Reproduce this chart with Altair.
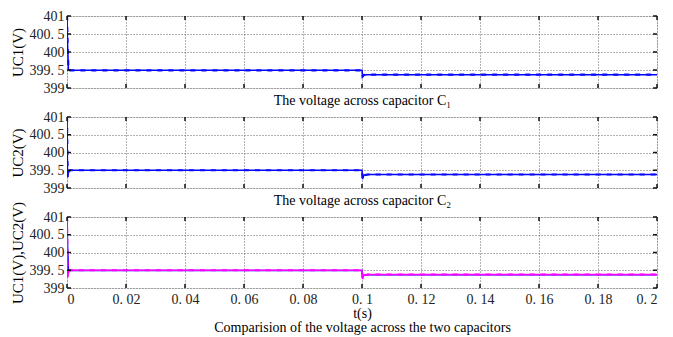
import altair as alt
import pandas as pd

# time samples (s)
t = [0.0, 0.0002, 0.0005, 0.001, 0.0999, 0.1, 0.1002, 0.1006, 0.102, 0.2]
# capacitor voltages (V)
uc1 = [401.0, 400.2, 399.5, 399.49, 399.49, 399.49, 399.32, 399.36, 399.37, 399.37]
uc2 = [401.0, 399.3, 399.45, 399.5, 399.5, 399.5, 399.25, 399.36, 399.38, 399.38]

x_ticks = [0, 0.02, 0.04, 0.06, 0.08, 0.1, 0.12, 0.14, 0.16, 0.18, 0.2]
y_ticks = [399, 399.5, 400, 400.5, 401]

titles = ["The voltage across capacitor C\u2081", "The voltage across capacitor C\u2082"]
y_titles = ["UC1(V)", "UC2(V)", "UC1(V),UC2(V)"]
bottom_title = ["t(s)", "Comparision of the voltage across the two capacitors"]

FONT = "Liberation Serif"
W = 590

df = pd.DataFrame({"t": t, "uc1": uc1, "uc2": uc2})
xt = pd.DataFrame({"x": x_ticks})
yt = pd.DataFrame({"y": y_ticks})

label_expr = "replace(format(datum.value, ''), '.', '. ')"


def panel(kind, h):
    last = kind == 2
    xaxis = alt.Axis(
        values=x_ticks, grid=True, gridDash=[1, 2], gridColor="#555", gridOpacity=0.9,
        ticks=False, domain=False, labels=last, labelExpr=label_expr, labelOverlap=False,
        labelFont=FONT, labelFontSize=14, labelColor="#222", labelPadding=4,
        title=bottom_title if last else titles[kind],
        titleFont=FONT, titleFontSize=14, titleFontWeight="normal", titleLineHeight=14,
        titleColor="#000", titlePadding=0 if last else 5,
    )
    yaxis = alt.Axis(
        values=y_ticks, grid=True, gridDash=[1, 2], gridColor="#555", gridOpacity=0.9,
        ticks=False, domain=False, labelExpr=label_expr, labelOverlap=False,
        labelFont=FONT, labelFontSize=14, labelColor="#222", labelPadding=3,
        title=y_titles[kind], titleFont=FONT, titleFontSize=15,
        titleFontWeight="normal", titleColor="#000", titlePadding=4,
    )
    xs = alt.Scale(domain=[0, 0.2], nice=False, zero=False)
    ys = alt.Scale(domain=[399, 401], nice=False, zero=False)

    X = lambda f: alt.X(f, scale=xs, axis=xaxis)
    Y = lambda f: alt.Y(f, scale=ys, axis=yaxis)

    layers = []
    if kind in (0, 2):
        layers.append(alt.Chart(df).mark_line(color="#0000ff", strokeWidth=1.5, clip=True).encode(
            x=X("t:Q"), y=Y("uc1:Q")))
        if kind == 0:
            layers.append(alt.Chart(df).mark_line(color="#0a0aff", strokeWidth=2.2, strokeDash=[5, 6], clip=True).encode(
                x=X("t:Q"), y=Y("uc1:Q")))
    if kind == 1:
        layers.append(alt.Chart(df).mark_line(color="#0000ff", strokeWidth=1.5, clip=True).encode(
            x=X("t:Q"), y=Y("uc2:Q")))
        layers.append(alt.Chart(df).mark_line(color="#0a0aff", strokeWidth=2.2, strokeDash=[5, 6], clip=True).encode(
            x=X("t:Q"), y=Y("uc2:Q")))
    if kind == 2:
        layers.append(alt.Chart(df).mark_line(color="#ff00ff", strokeWidth=1.5, clip=True).encode(
            x=X("t:Q"), y=Y("uc2:Q")))
        layers.append(alt.Chart(df).mark_line(color="#ff00ff", strokeWidth=2.2, strokeDash=[5, 6], clip=True).encode(
            x=X("t:Q"), y=Y("uc2:Q")))

    tick_col = "#111"
    layers.append(alt.Chart(xt).mark_rule(color=tick_col, strokeWidth=1.5).encode(
        x=X("x:Q"), y=alt.value(h), y2=alt.value(h - 4)))
    layers.append(alt.Chart(xt).mark_rule(color=tick_col, strokeWidth=1.5).encode(
        x=X("x:Q"), y=alt.value(0), y2=alt.value(4)))
    layers.append(alt.Chart(yt).mark_rule(color=tick_col, strokeWidth=1.5).encode(
        y=Y("y:Q"), x=alt.value(0), x2=alt.value(4)))
    layers.append(alt.Chart(yt).mark_rule(color=tick_col, strokeWidth=1.5).encode(
        y=Y("y:Q"), x=alt.value(W - 4), x2=alt.value(W)))

    return alt.layer(*layers).properties(width=W, height=h)


chart = alt.vconcat(panel(0, 72), panel(1, 71), panel(2, 71), spacing=29, bounds="flush").properties(
    padding={"left": 1, "top": 0, "right": 5, "bottom": 0}
).configure_view(stroke="#000", strokeWidth=2).configure(background="white")

chart.save("out.html", embed_options={"renderer": "svg", "actions": False})
